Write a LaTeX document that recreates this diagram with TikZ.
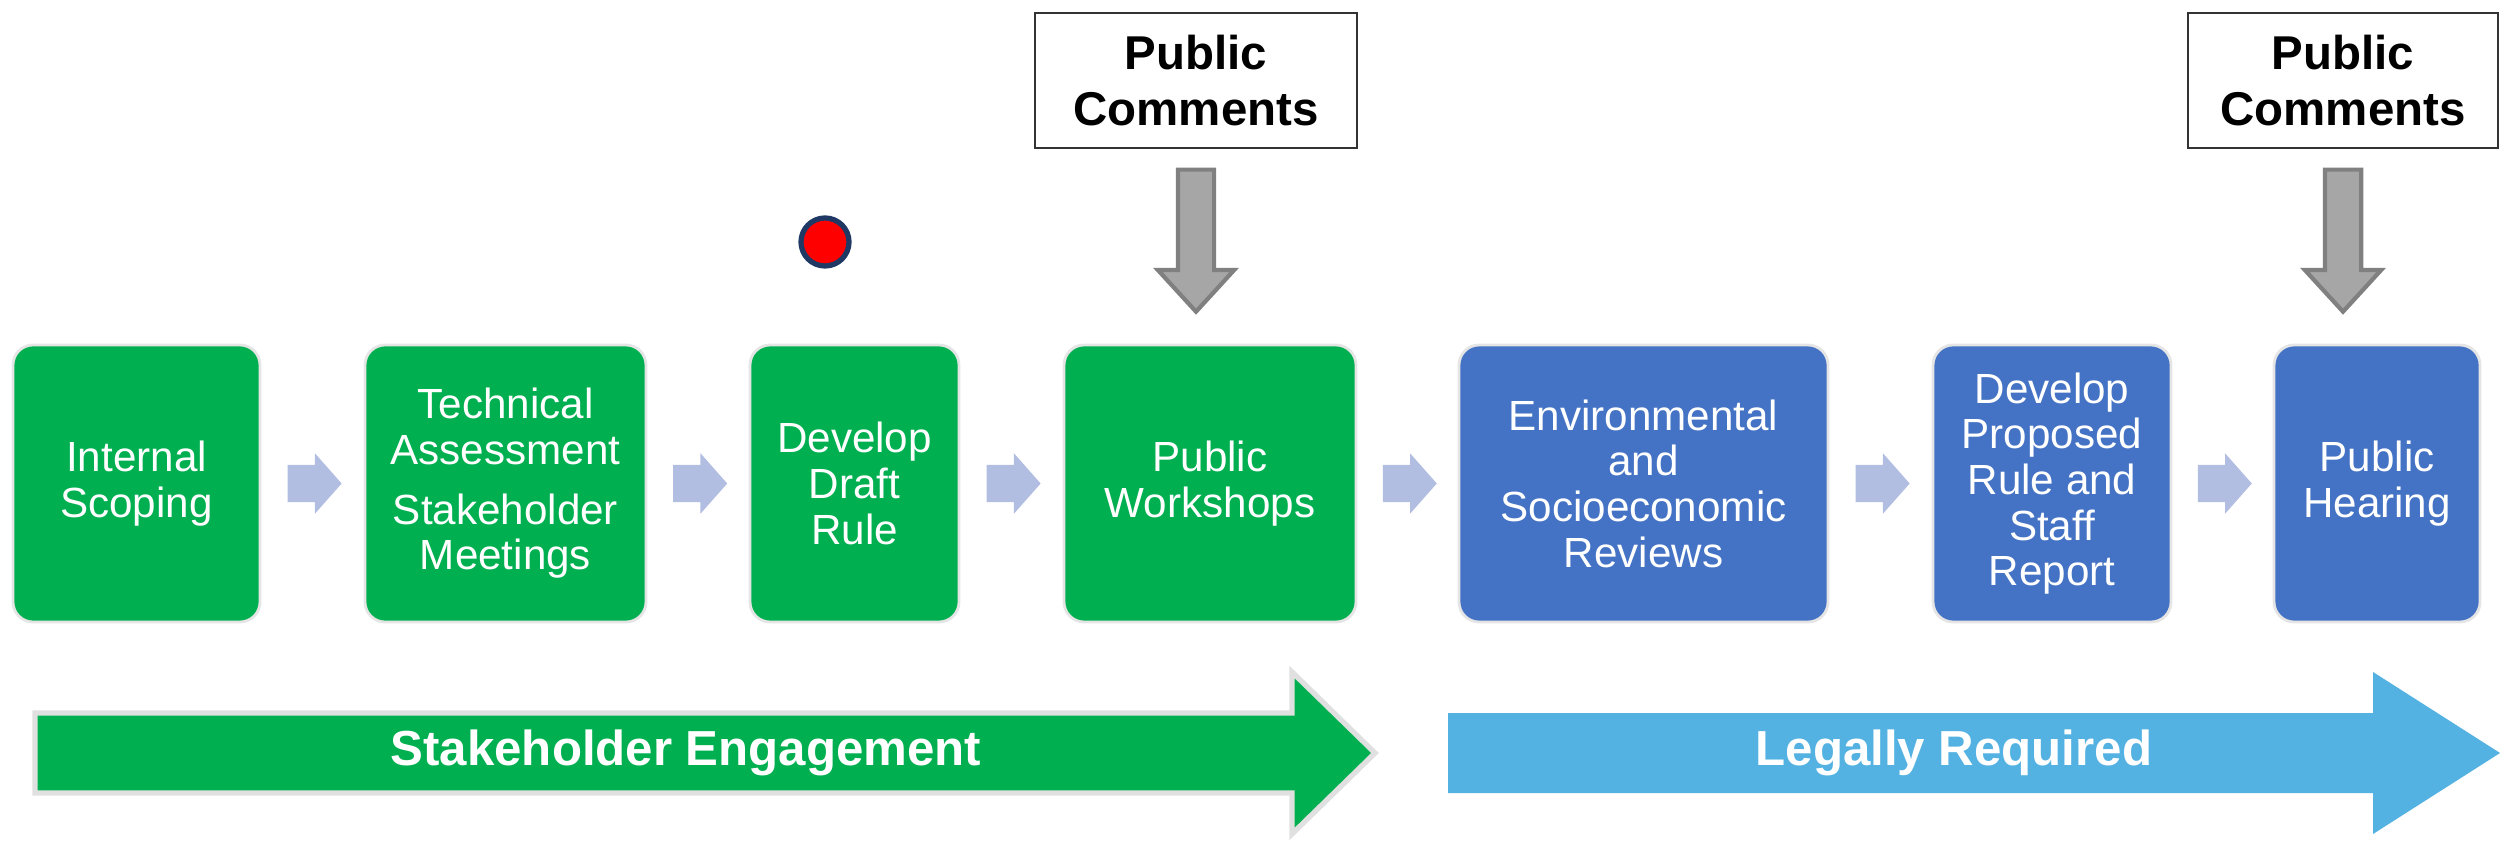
\documentclass[tikz,border=0pt]{standalone}
\usepackage{fontspec}
\setmainfont{Liberation Sans}
\usepackage{tikz}
\usetikzlibrary{positioning, shapes.arrows, calc}
\definecolor{stepgreen}{RGB}{0,176,80}
\definecolor{stepblue}{RGB}{68,114,196}
\definecolor{bandblue}{RGB}{83,178,226}
\definecolor{chevcol}{RGB}{178,189,226}
\definecolor{dotnavy}{RGB}{31,56,100}

\begin{document}
\begin{tikzpicture}[font=\fontsize{12}{13}\selectfont]
	\tikzstyle{phase}=[rectangle, rounded corners=0.2cm, draw=black!10, line width=0.8pt, text=white, align=center, minimum height=2.77cm, inner sep=0pt]
	\tikzstyle{green phase}=[phase, fill=stepgreen]
	\tikzstyle{blue phase}=[phase, fill=stepblue]
	\tikzstyle{chev}=[single arrow, fill=chevcol, draw=none, minimum height=0.54cm, inner xsep=0pt, inner ysep=0.18cm, single arrow head extend=0.115cm, single arrow tip angle=97]
	\tikzstyle{comment}=[rectangle, draw=black!80, line width=0.6pt, fill=white, align=center, font=\fontsize{13.5}{16}\selectfont\bfseries, minimum height=1.35cm]
	\tikzstyle{down}=[single arrow, rotate=-90, fill=black!35, draw=black!50, line width=1.2pt, minimum height=1.42cm, inner xsep=0pt, inner ysep=0.16cm, single arrow head extend=0.2cm, single arrow tip angle=85]
	\tikzstyle{band text}=[text=white, font=\fontsize{14}{16}\selectfont\bfseries]
	\useasboundingbox (0,0) rectangle (25.01,8.40);

	\node[green phase, minimum width=2.47cm] (scoping)  at (1.365,3.565)  {Internal\\Scoping};
	\node[green phase, minimum width=2.81cm] (assess)   at (5.055,3.565)  {Technical\\Assessment\\[4pt]Stakeholder\\Meetings};
	\node[green phase, minimum width=2.09cm] (draft)    at (8.545,3.565)  {Develop\\Draft\\Rule};
	\node[green phase, minimum width=2.92cm] (workshop) at (12.10,3.565)  {Public\\Workshops};
	\node[blue phase,  minimum width=3.69cm] (review)   at (16.435,3.565) {Environmental\\and\\Socioeconomic\\Reviews};
	\node[blue phase,  minimum width=2.38cm] (proposed) at (20.52,3.565)  {Develop\\Proposed\\Rule and\\Staff\\Report};
	\node[blue phase,  minimum width=2.06cm] (hearing)  at (23.77,3.565)  {Public\\Hearing};

	\path
	(scoping)  -- (assess)   node[pos=0.44, chev] (c1) {}
	(assess)   -- (draft)    node[pos=0.44, chev] (c2) {}
	(draft)    -- (workshop) node[pos=0.44, chev] (c3) {}
	(workshop) -- (review)   node[pos=0.44, chev] (c4) {}
	(review)   -- (proposed) node[pos=0.44, chev] (c5) {}
	(proposed) -- (hearing)  node[pos=0.44, chev] (c6) {};

	\node[comment, minimum width=3.22cm] (pc1) at (11.96,7.595) {Public\\Comments};
	\node[comment, minimum width=3.10cm] (pc2) at (23.43,7.595) {Public\\Comments};
	\path (pc1.south) -- (pc1.south |- workshop.north) node[pos=0.42, down] (d1) {};
	\path (pc2.south) -- (pc2.south |- hearing.north)  node[pos=0.42, down] (d2) {};

	\node[circle, fill=red, draw=dotnavy, line width=1.5pt, minimum size=0.48cm, inner sep=0pt] (dot) at (8.25,5.98) {};

	% bottom bands
	\filldraw[fill=stepgreen, draw=black!12, line width=1.5pt] (0.35,0.47) -- (12.92,0.47) -- (12.92,0.06) -- (13.75,0.87) -- (12.92,1.68) -- (12.92,1.27) -- (0.35,1.27) -- cycle;
	\fill[bandblue] (14.48,0.47) -- (23.73,0.47) -- (23.73,0.06) -- (25.0,0.87) -- (23.73,1.68) -- (23.73,1.27) -- (14.48,1.27) -- cycle;
	\node[band text] (engage) at (6.86,0.87)  {Stakeholder Engagement};
	\node[band text] (legal)  at (19.54,0.87) {Legally Required};
\end{tikzpicture}
\end{document}
